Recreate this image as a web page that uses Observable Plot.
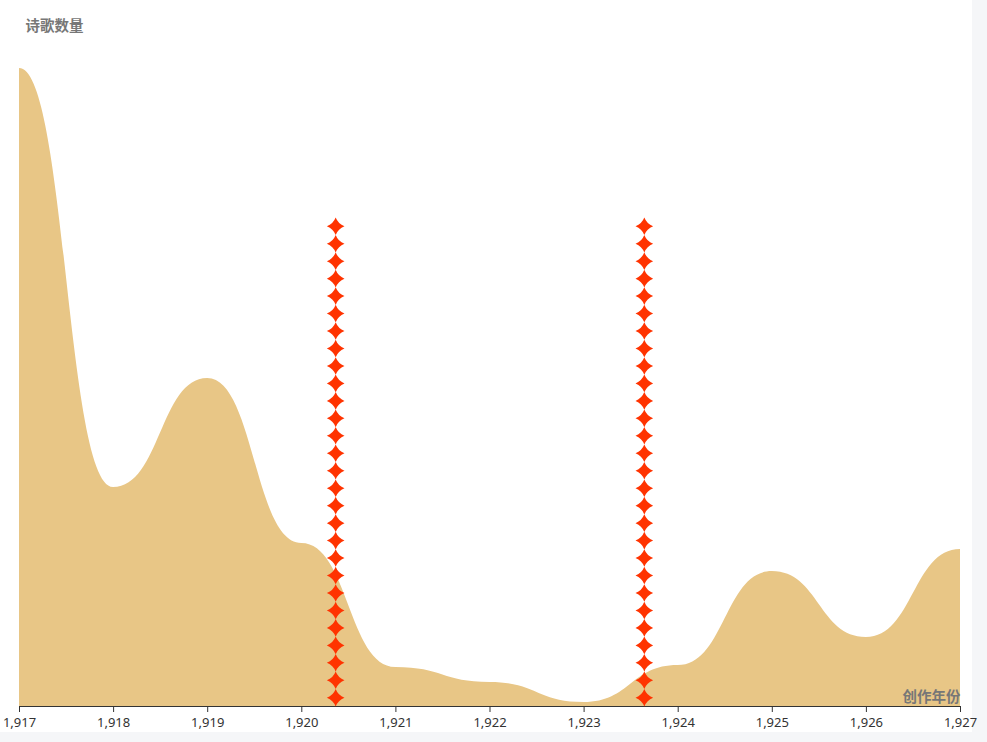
<!DOCTYPE html>
<html>
<head>
<meta charset="utf-8">
<script src="https://cdn.jsdelivr.net/npm/d3@7"></script>
<script src="https://cdn.jsdelivr.net/npm/@observablehq/plot@0.6"></script>
<style>
  html, body { margin: 0; padding: 0; background: #f5f6f8; }
  #wrap { width: 972px; height: 732px; background: #ffffff; }
  svg { font-family: "Noto Sans", "Noto Sans CJK SC", sans-serif; overflow: visible !important; }
  svg [aria-label^="x-axis"], svg [aria-label^="x-axis"] text { font-size: 13px !important; }
</style>
</head>
<body>
<div id="wrap"></div>
<script>
// Data
const years  = [1917, 1918, 1919, 1920, 1921, 1922, 1923, 1924, 1925, 1926, 1927];
const counts = [63.8, 21.9, 32.8, 16.3, 3.9, 2.4, 0.4, 4.1, 13.5, 6.9, 15.7];
const markerYears = [1920.36, 1923.64];
const markerValues = [48.9, 48.9];
const markerCount = 28;
const yTitle = "诗歌数量";
const xTitle = "创作年份";

const areaData = years.map((y, i) => ({year: y, value: counts[i]}));

// repeated symbols for each marker bar (pictorial bar style)
const stars = [];
markerYears.forEach((yr, j) => {
  const step = markerValues[j] / markerCount;
  for (let i = 0; i < markerCount; i++) stars.push({year: yr, value: (i + 0.5) * step});
});

const star4 = {
  draw(context, size) {
    const R = Math.sqrt(size / Math.PI);
    const c = R * 0.28;
    context.moveTo(0, -R);
    context.quadraticCurveTo(c, -c, R, 0);
    context.quadraticCurveTo(c, c, 0, R);
    context.quadraticCurveTo(-c, c, -R, 0);
    context.quadraticCurveTo(-c, -c, 0, -R);
    context.closePath();
  }
};

const chart = Plot.plot({
  width: 972,
  height: 732,
  marginTop: 6,
  marginBottom: 26,
  marginLeft: 19,
  marginRight: 12,
  style: {background: "transparent", color: "#333", fontSize: "13px", overflow: "visible"},
  x: {domain: [1917, 1927], ticks: years, tickFormat: ",", tickSize: 6, line: true, label: null, tickPadding: 5},
  y: {domain: [0, 70], axis: null},
  marks: [
    Plot.areaY(areaData, {x: "year", y: "value", curve: "bump-x", fill: "#e8c686"}),
    Plot.dot(stars, {x: "year", y: "value", symbol: star4, r: 8.8, fill: "#ff3300", stroke: "none"}),
    Plot.text([yTitle], {frameAnchor: "top-left", text: d => d, dx: 6, dy: 20, lineAnchor: "middle", textAnchor: "start", fill: "#777", fontWeight: "bold", fontSize: 14.5}),
    Plot.text([xTitle], {frameAnchor: "bottom-right", text: d => d, dx: 0, dy: -9, lineAnchor: "middle", textAnchor: "end", fill: "#777", fontWeight: "bold", fontSize: 14.5})
  ]
});
chart.querySelectorAll("text").forEach(t => {
  if (/[\u4e00-\u9fff]/.test(t.textContent)) t.style.fontFamily = '"Noto Sans CJK SC", sans-serif';
});
document.getElementById("wrap").appendChild(chart);
</script>
</body>
</html>
